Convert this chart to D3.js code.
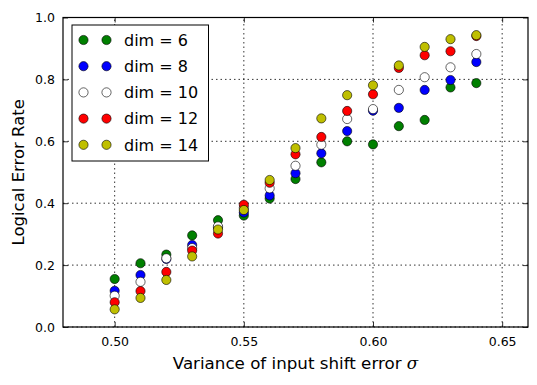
<!DOCTYPE html>
<html>
<head>
<meta charset="utf-8">
<script src="https://cdn.jsdelivr.net/npm/d3@7"></script>
<style>
body { margin: 0; background: #fff; }
text { font-family: "DejaVu Sans", sans-serif; fill: #000; }
.grid line { stroke: #000; stroke-width: 0.8; stroke-dasharray: 1.5, 3; }
</style>
</head>
<body>
<div id="chart"></div>
<script>
var W = 537, H = 385;
var MARGIN = {left: 63, right: 9, top: 17.5, bottom: 58};

var sigma = [0.50, 0.51, 0.52, 0.53, 0.54, 0.55, 0.56, 0.57, 0.58, 0.59, 0.60, 0.61, 0.62, 0.63, 0.64];
var dim6  = [0.155, 0.206, 0.234, 0.296, 0.345, 0.360, 0.415, 0.478, 0.532, 0.600, 0.590, 0.649, 0.669, 0.774, 0.788];
var dim8  = [0.117, 0.168, 0.220, 0.265, 0.322, 0.370, 0.425, 0.497, 0.561, 0.633, 0.699, 0.708, 0.766, 0.798, 0.856];
var dim10 = [0.101, 0.146, 0.222, 0.255, 0.325, 0.385, 0.448, 0.521, 0.589, 0.672, 0.704, 0.766, 0.807, 0.839, 0.882];
var dim12 = [0.080, 0.116, 0.178, 0.247, 0.302, 0.395, 0.466, 0.558, 0.614, 0.698, 0.752, 0.837, 0.878, 0.891, 0.940];
var dim14 = [0.057, 0.094, 0.152, 0.228, 0.315, 0.378, 0.475, 0.578, 0.674, 0.749, 0.781, 0.845, 0.905, 0.930, 0.943];

var seriesNames = ["dim = 6", "dim = 8", "dim = 10", "dim = 12", "dim = 14"];
var seriesValues = [dim6, dim8, dim10, dim12, dim14];
var COLORS = ["#008000", "#0000ff", "#ffffff", "#ff0000", "#bfbf00"];

var xTicks = [0.50, 0.55, 0.60, 0.65];
var yTicks = [0.0, 0.2, 0.4, 0.6, 0.8, 1.0];

var svg = d3.select('#chart').append('svg').attr('width', W).attr('height', H);

var x = d3.scaleLinear().domain([0.48, 0.66]).range([MARGIN.left, W - MARGIN.right]);
var y = d3.scaleLinear().domain([0, 1]).range([H - MARGIN.bottom, MARGIN.top]);

// grid
var grid = svg.append('g').attr('class', 'grid');
grid.selectAll('.gx').data(xTicks).enter().append('line')
    .attr('x1', function(d){return x(d)}).attr('x2', function(d){return x(d)})
    .attr('y1', y(0)).attr('y2', y(1));
grid.selectAll('.gy').data(yTicks).enter().append('line')
    .attr('x1', x(0.48)).attr('x2', x(0.66))
    .attr('y1', function(d){return y(d)}).attr('y2', function(d){return y(d)});

// points
var pts = svg.append('g');
seriesValues.forEach(function(vals, s){
    pts.selectAll('.p' + s).data(vals).enter().append('circle')
        .attr('cx', function(d, i){return x(sigma[i])})
        .attr('cy', function(d){return y(d)})
        .attr('r', 4.6)
        .attr('fill', COLORS[s])
        .attr('stroke', '#000')
        .attr('stroke-width', 0.6);
});

// frame
svg.append('rect')
    .attr('x', x(0.48)).attr('y', y(1))
    .attr('width', x(0.66) - x(0.48)).attr('height', y(0) - y(1))
    .attr('fill', 'none').attr('stroke', '#000').attr('stroke-width', 1.2);

// axes (ticks inside, mirrored)
var axBottom = svg.append('g').attr('transform', 'translate(0,' + y(0) + ')')
    .call(d3.axisBottom(x).tickValues(xTicks).tickSizeInner(-5).tickSizeOuter(0).tickPadding(10).tickFormat(d3.format('.2f')));
var axTop = svg.append('g').attr('transform', 'translate(0,' + y(1) + ')')
    .call(d3.axisTop(x).tickValues(xTicks).tickSizeInner(-5).tickSizeOuter(0).tickFormat(''));
var axLeft = svg.append('g').attr('transform', 'translate(' + x(0.48) + ',0)')
    .call(d3.axisLeft(y).tickValues(yTicks).tickSizeInner(-5).tickSizeOuter(0).tickPadding(8).tickFormat(d3.format('.1f')));
var axRight = svg.append('g').attr('transform', 'translate(' + x(0.66) + ',0)')
    .call(d3.axisRight(y).tickValues(yTicks).tickSizeInner(-5).tickSizeOuter(0).tickFormat(''));
[axBottom, axTop, axLeft, axRight].forEach(function(a){
    a.select('.domain').remove();
    a.selectAll('line').attr('stroke', '#000').attr('stroke-width', 0.8);
    a.selectAll('text').style('font-size', '12.5px').style('font-family', '"DejaVu Sans", sans-serif');
});

// labels
var xl = svg.append('text').attr('x', (x(0.48) + x(0.66)) / 2).attr('y', 369)
    .attr('text-anchor', 'middle').style('font-size', '16.7px');
xl.append('tspan').text('Variance of input shift error ');
xl.append('tspan').style('font-style', 'italic').style('font-family', '"DejaVu Serif", serif').text('σ');

svg.append('text').attr('transform', 'translate(24,' + ((y(0) + y(1)) / 2) + ') rotate(-90)')
    .attr('text-anchor', 'middle').style('font-size', '16.5px').text('Logical Error Rate');

// legend
var lg = svg.append('g').attr('transform', 'translate(72,25)');
lg.append('rect').attr('width', 136.5).attr('height', 136).attr('fill', '#fff')
    .attr('stroke', '#000').attr('stroke-width', 1);
var items = lg.selectAll('.legend').data(seriesNames).enter().append('g')
    .attr('transform', function(d, i){return 'translate(0,' + (15 + i * 26.2) + ')'});
items.append('circle').attr('cx', 11.5).attr('r', 4.6)
    .attr('fill', function(d, i){return COLORS[i]}).attr('stroke', '#000').attr('stroke-width', 0.6);
items.append('circle').attr('cx', 34.5).attr('r', 4.6)
    .attr('fill', function(d, i){return COLORS[i]}).attr('stroke', '#000').attr('stroke-width', 0.6);
items.append('text').attr('x', 52).attr('dy', '0.36em').style('font-size', '16px')
    .text(function(d){return d});
</script>
</body>
</html>
